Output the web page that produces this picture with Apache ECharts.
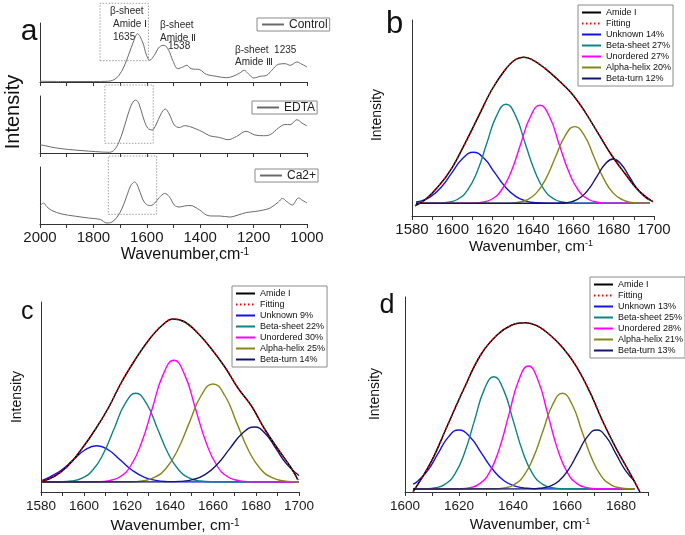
<!DOCTYPE html>
<html><head><meta charset="utf-8">
<script src="https://cdn.jsdelivr.net/npm/echarts@6/dist/echarts.min.js"></script>
<style>html,body{margin:0;padding:0;background:#fff}#c{width:685px;height:535px}</style>
</head><body><div id="c"></div>
<script>
// ---------- DATA ----------
// Panel a: FTIR spectra, [wavenumber, relative height]
const aControl = [[2000,0.7],[1900,0.5],[1800,0.5],[1748,0.7],[1723,2.3],[1704,6.7],[1686,15],[1667,28],[1648,41.7],[1635,48.3],[1616,40],[1601,26.7],[1589,21.7],[1572,26.7],[1553,35],[1535,36.7],[1518,31.7],[1503,21.7],[1484,13.3],[1465,15],[1450,16.7],[1434,13.3],[1402,12.3],[1377,7.7],[1340,5.7],[1302,4.3],[1277,5.7],[1252,9],[1235,11.7],[1220,8.3],[1199,4],[1176,5.7],[1151,6.7],[1132,11.7],[1107,17.7],[1082,18.3],[1063,16.7],[1038,20],[1019,17.7],[1000,15]];
const aEDTA = [[2000,8.3],[1981,7.3],[1943,5.2],[1893,3.5],[1843,2.4],[1792,1.4],[1740,0.7],[1722,3],[1705,10.5],[1688,23],[1670,39],[1654,50],[1641,53],[1629,49],[1614,36],[1597,25],[1580,23],[1566,28],[1547,39],[1531,44],[1516,39],[1497,28],[1478,25.5],[1459,27.3],[1440,26.5],[1415,24],[1390,21],[1365,17.3],[1327,15.5],[1296,13.3],[1264,16.5],[1228,21.7],[1195,18],[1163,17.3],[1138,18.3],[1107,25],[1082,28.5],[1063,28.3],[1038,33.3],[1019,30],[1000,27]];
const aCa = [[2000,18],[1987,21],[1975,17.5],[1956,13.5],[1918,10],[1868,7.8],[1818,6],[1774,4.5],[1750,1],[1730,2],[1711,7],[1692,16],[1675,28],[1660,38.5],[1646,42],[1633,37.5],[1616,25],[1601,19.5],[1585,18.5],[1570,21],[1553,26.5],[1533,30.5],[1516,27.5],[1497,19],[1478,17],[1459,18],[1438,18.5],[1402,14],[1377,9],[1352,8],[1327,8],[1289,7],[1258,9],[1226,11.5],[1195,12.5],[1163,14],[1138,16],[1107,22],[1092,25.5],[1076,22.5],[1055,19],[1032,26],[1016,23.5],[1000,21]];
// dotted boxes around the amide I band in panel a
const aBoxControl = [[1775,21.3],[1594,21.3],[1594,78.7],[1775,78.7],[1775,21.3]];
const aBoxEDTA = [[1757,9.7],[1576,9.7],[1576,68],[1757,68],[1757,9.7]];
const aBoxCa = [[1744,9.7],[1563,9.7],[1563,68],[1744,68],[1744,9.7]];
const aTickLabels = [2000,1800,1600,1400,1200,1000];

// Panel b
const bAmide = [[1581.5,-2.5],[1586.4,3.3],[1593,16.7],[1599.7,35],[1606.3,60],[1612.9,86.7],[1619.5,113.3],[1626.1,133.3],[1631,143.3],[1635.2,146],[1639.3,144],[1645.9,135],[1652.5,123.3],[1659.1,110],[1665.7,91.7],[1672.3,70],[1678.9,48.3],[1685.5,30],[1692.1,13.3],[1699.5,1.5]];
const bUnknown = [[1582,1.3],[1584.2,2.2],[1589.4,6.9],[1594.7,16.6],[1599.9,30.9],[1605.2,45],[1610.4,51],[1615.7,45],[1620.9,30.9],[1626.2,16.6],[1631.4,6.9],[1636.7,2.2],[1641.9,0.6],[1647.2,0.1],[1698,0]];
const bSheet = [[1582,0],[1593.4,0.2],[1598.1,1.1],[1602.9,4.3],[1607.6,13.4],[1612.4,32.1],[1617.1,60],[1621.9,87.4],[1626.6,99],[1631.4,87.4],[1636.1,60],[1640.9,32.1],[1645.6,13.4],[1650.4,4.3],[1655.1,1.1],[1659.9,0.2],[1698,0]];
const bUnordered = [[1582,0],[1610.2,0.2],[1614.9,1.1],[1619.7,4.3],[1624.4,13.3],[1629.2,31.8],[1633.9,59.4],[1638.7,86.5],[1643.4,98],[1648.2,86.5],[1652.9,59.4],[1657.7,31.8],[1662.4,13.3],[1667.2,4.3],[1671.9,1.1],[1676.7,0.2],[1698,0]];
const bHelix = [[1582,0],[1627.5,0.2],[1632.2,0.9],[1637,3.4],[1641.7,10.4],[1646.5,24.9],[1651.2,46.5],[1656,67.7],[1660.7,76.7],[1665.5,67.7],[1670.2,46.5],[1675,24.9],[1679.7,10.4],[1684.5,3.4],[1689.2,0.9],[1694,0.2],[1698,0]];
const bTurn = [[1582,0],[1651.7,0.1],[1655.7,0.5],[1659.7,1.9],[1663.7,6],[1667.7,14.4],[1671.7,26.9],[1675.7,39.1],[1679.7,44.3],[1683.7,39.1],[1687.7,26.9],[1691.7,14.4],[1695.7,6],[1698,3.2]];
const bNames = ['Amide I','Fitting','Unknown 14%','Beta-sheet 27%','Unordered 27%','Alpha-helix 20%','Beta-turn 12%'];
const bTickLabels = [1580,1600,1620,1640,1660,1680,1700];

// Panel c
const cAmide = [[1580.3,0.5],[1586.5,6],[1592.7,16.5],[1598.9,33],[1605.1,52],[1611.3,74],[1617.5,100],[1623.7,122],[1629.8,141],[1636,156],[1641.5,163],[1646.9,160],[1653.1,148.5],[1659.3,133],[1665.5,115],[1671.6,94],[1677.9,76],[1684,53],[1690.2,33],[1696.4,14],[1699.5,2]];
const cUnknown = [[1580.5,1.5],[1584,4.9],[1589.4,11.8],[1594.9,22],[1600.4,32],[1605.9,36.3],[1611.4,32],[1616.9,22],[1622.4,11.8],[1627.9,4.9],[1633.4,1.6],[1638.9,0.4],[1644.4,0.1],[1700,0]];
const cSheet = [[1580.5,0],[1589.1,0.2],[1594.1,1],[1599.1,3.9],[1604.1,12],[1609.1,28.8],[1614.1,53.8],[1619.1,78.3],[1624.1,88.7],[1629.1,78.3],[1634.1,53.8],[1639.1,28.8],[1644.1,12],[1649.1,3.9],[1654.1,1],[1659.1,0.2],[1700,0]];
const cUnordered = [[1580.5,0],[1606.8,0.3],[1611.8,1.4],[1616.8,5.3],[1621.8,16.5],[1626.8,39.5],[1631.8,73.8],[1636.8,107.4],[1641.8,121.7],[1646.8,107.4],[1651.8,73.8],[1656.8,39.5],[1661.8,16.5],[1666.8,5.3],[1671.8,1.4],[1676.8,0.3],[1700,0]];
const cHelix = [[1580.5,0],[1621.5,0.2],[1627,1.1],[1632.5,4.3],[1638,13.3],[1643.5,31.8],[1649,59.4],[1654.5,86.5],[1660,98],[1665.5,86.5],[1671,59.4],[1676.5,31.8],[1682,13.3],[1687.5,4.3],[1693,1.1],[1698.5,0.2],[1700,0.1]];
const cTurn = [[1580.5,0],[1639.1,0.1],[1644.8,0.6],[1650.6,2.4],[1656.3,7.4],[1662.1,17.9],[1667.8,33.4],[1673.6,48.5],[1679.3,55],[1684.3,48.5],[1689.3,33.4],[1694.3,17.9],[1700,6.5]];
const cNames = ['Amide I','Fitting','Unknown 9%','Beta-sheet 22%','Unordered 30%','Alpha-helix 25%','Beta-turn 14%'];
const cTickLabels = [1580,1600,1620,1640,1660,1680,1700];

// Panel d
const dAmide = [[1603,-2.7],[1609.7,27.3],[1615.8,64],[1621.9,100.7],[1628,134],[1634.1,154],[1639.6,164],[1644.5,166.3],[1648.8,163.3],[1653.7,154],[1658.6,140.7],[1663.5,122.3],[1668.4,97.3],[1673.3,67.3],[1678.2,40.7],[1683,17.3],[1687,-3]];
const dUnknown = [[1603,4.8],[1604.8,8],[1608.6,19.2],[1612.3,35.8],[1616.1,52.1],[1619.8,59],[1624.1,52.1],[1628.3,35.8],[1632.6,19.2],[1636.8,8],[1641.1,2.6],[1645.3,0.7],[1649.6,0.1],[1685,0]];
const dSheet = [[1603,0],[1607.7,0.2],[1611.3,1.2],[1614.9,4.9],[1618.5,15.2],[1622.1,36.5],[1625.7,68.1],[1629.3,99.1],[1632.9,112.3],[1636.5,99.1],[1640.1,68.1],[1643.7,36.5],[1647.3,15.2],[1650.9,4.9],[1654.5,1.2],[1658.1,0.2],[1685,0]];
const dUnordered = [[1603,0],[1620.5,0.3],[1624.1,1.4],[1627.7,5.4],[1631.3,16.6],[1634.9,39.9],[1638.5,74.6],[1642.1,108.5],[1645.7,123],[1649.3,108.5],[1652.9,74.6],[1656.5,39.9],[1660.1,16.6],[1663.7,5.4],[1667.3,1.4],[1670.9,0.3],[1685,0]];
const dHelix = [[1603,0],[1633.1,0.2],[1636.7,1.1],[1640.3,4.2],[1643.9,12.9],[1647.5,31.1],[1651.1,58],[1654.7,84.5],[1658.3,95.7],[1661.9,84.5],[1665.5,58],[1669.1,31.1],[1672.7,12.9],[1676.3,4.2],[1679.9,1.1],[1683.5,0.2],[1685,0.1]];
const dTurn = [[1603,0],[1646.5,0.1],[1650,0.7],[1653.5,2.6],[1657,8],[1660.5,19.2],[1664,35.8],[1667.5,52.1],[1671,59],[1674.5,52.1],[1678,35.8],[1681.5,19.2],[1685,8]];
const dNames = ['Amide I','Fitting','Unknown 13%','Beta-sheet 25%','Unordered 28%','Alpha-helix 21%','Beta-turn 13%'];
const dTickLabels = [1600,1620,1640,1660,1680];

// ---------- STYLE ----------
const FF = "'Liberation Sans', Arial, Helvetica, sans-serif";
const COLORS = ['#000000','#ff0000','#1414e6','#0e8383','#ff00ff','#86861a','#14146e'];
const AX = '#333';

function xAx(gi, min, max, interval, labels, fs, margin, extra) {
  return Object.assign({
    type:'value', gridIndex:gi, min, max, interval,
    axisLine:{show:true, onZero:false, lineStyle:{color:AX, width:1}},
    axisTick:{show:true, inside:false, length:4, lineStyle:{color:AX, width:1}},
    splitLine:{show:false},
    axisLabel:{show: !!labels, fontSize:fs, color:'#1a1a1a', margin, fontFamily:FF,
      formatter: v => (labels && labels.indexOf(v) >= 0) ? String(v) : ''}
  }, extra || {});
}
function yAx(gi, min, max) {
  return {type:'value', gridIndex:gi, min, max,
    axisLine:{show:true, onZero:false, lineStyle:{color:AX, width:1}},
    axisTick:{show:false}, axisLabel:{show:false}, splitLine:{show:false}};
}
function line(name, data, idx, color, opts) {
  return Object.assign({type:'line', name, data, xAxisIndex:idx, yAxisIndex:idx, symbol:'none',
    smooth:0.5, silent:true, lineStyle:{color, width:1.4}, itemStyle:{color}}, opts || {});
}
function fitPanel(idx, names, comps, amide) {
  const s = [];
  comps.forEach((d, i) => s.push(line(names[i+2], d, idx, COLORS[i+2])));
  s.push(line(names[0], amide, idx, COLORS[0], {smooth:0.4, lineStyle:{color:COLORS[0], width:1.5}}));
  s.push(line(names[1], amide, idx, COLORS[1], {smooth:0.4, lineStyle:{color:COLORS[1], width:1.5, type:[1.5,2.5]}}));
  return s;
}
function legendFit(left, top, names) {
  return {show:true, orient:'vertical', left, top, data:names, selectedMode:false,
    itemWidth:19, itemHeight:11, itemGap:0, padding:[2,2,2,3],
    borderColor:'#8a8a8a', borderWidth:1, borderRadius:0, backgroundColor:'#fff',
    textStyle:{fontSize:9, color:'#111', fontFamily:FF, lineHeight:11}, itemStyle:{opacity:0}};
}
function legendA(left, top, name) {
  return {show:true, orient:'horizontal', left, top, data:[name], selectedMode:false,
    itemWidth:22, itemHeight:13, itemGap:0, padding:[0,2,0,4],
    borderColor:'#8a8a8a', borderWidth:1, borderRadius:0, backgroundColor:'#fff',
    textStyle:{fontSize:12, color:'#222', fontFamily:FF, lineHeight:13}, itemStyle:{opacity:0}};
}
function txt(x, y, text, fs, opts) {
  return Object.assign({type:'text', x, y, silent:true,
    style:{text, fontSize:fs, fontFamily:FF, fill:'#111', align:'center', verticalAlign:'middle',
      textAlign:'center', textVerticalAlign:'middle'}}, opts || {});
}
function title(x, y, main, fs) {
  return {type:'text', x, y, silent:true, style:{
    text:'{m|' + main + '}{s|-1}', fontFamily:FF, fontSize:fs, fill:'#111',
    align:'center', verticalAlign:'middle', textAlign:'center', textVerticalAlign:'middle',
    rich:{m:{fontSize:fs, fontFamily:FF, fill:'#111', color:'#111', verticalAlign:'bottom'},
          s:{fontSize:Math.round(fs*0.62), fontFamily:FF, fill:'#111', color:'#111', verticalAlign:'top'}}}};
}
function annot(x, y, text) {
  return {type:'text', x, y, silent:true, style:{text, fontSize:10, fontFamily:FF, fill:'#2a2a2a',
    align:'left', verticalAlign:'middle', textAlign:'left', textVerticalAlign:'middle'}};
}

const boxStyle = {color:'#a0a0a0', width:1, type:[1.5,1.5]};
const spec = (name, data, idx) => line(name, data, idx, '#6a6a6a', {smooth:0.35, lineStyle:{color:'#6a6a6a', width:1}});
const box = (name, data, idx) => line(name, data, idx, '#a0a0a0', {smooth:false, clip:false, lineStyle:boxStyle, z:1});

const option = {
  animation:false,
  backgroundColor:'#ffffff',
  grid:[
    {left:40, top:23, width:267, height:59, outerBoundsMode:'none', containLabel:false},
    {left:40, top:96, width:267, height:57, outerBoundsMode:'none', containLabel:false},
    {left:40, top:167, width:267, height:57, outerBoundsMode:'none', containLabel:false},
    {left:412, top:20, width:242, height:196, outerBoundsMode:'none', containLabel:false},
    {left:41, top:302, width:258, height:190, outerBoundsMode:'none', containLabel:false},
    {left:405, top:297, width:243, height:195, outerBoundsMode:'none', containLabel:false}
  ],
  xAxis:[
    xAx(0, 1000, 2000, 100, null, 15, 6, {inverse:true}),
    xAx(1, 1000, 2000, 100, null, 15, 6, {inverse:true}),
    xAx(2, 1000, 2000, 100, aTickLabels, 15, 6, {inverse:true}),
    xAx(3, 1580, 1700, 10, bTickLabels, 15, 6),
    xAx(4, 1580, 1700, 10, cTickLabels, 13.5, 7),
    xAx(5, 1600, 1690, 10, dTickLabels, 13.5, 7)
  ],
  yAxis:[
    yAx(0, 0, 59), yAx(1, 0, 57), yAx(2, 0, 57),
    yAx(3, -12.7, 183.3), yAx(4, -10, 180), yAx(5, -3, 192)
  ],
  legend:[
    legendA(257, 18, 'Control'),
    legendA(252, 101, 'EDTA'),
    legendA(255, 169, 'Ca2+'),
    legendFit(578, 5, bNames),
    legendFit(232, 286, cNames),
    legendFit(590, 277, dNames)
  ],
  series:[
    box('boxControl', aBoxControl, 0), box('boxEDTA', aBoxEDTA, 1), box('boxCa', aBoxCa, 2),
    spec('Control', aControl, 0), spec('EDTA', aEDTA, 1), spec('Ca2+', aCa, 2),
    ...fitPanel(3, bNames, [bUnknown, bSheet, bUnordered, bHelix, bTurn], bAmide),
    ...fitPanel(4, cNames, [cUnknown, cSheet, cUnordered, cHelix, cTurn], cAmide),
    ...fitPanel(5, dNames, [dUnknown, dSheet, dUnordered, dHelix, dTurn], dAmide)
  ],
  graphic:[
    txt(29, 31.5, 'a', 30),
    txt(394.5, 24, 'b', 31),
    txt(27.3, 312, 'c', 25),
    txt(387, 305.5, 'd', 27),
    txt(13, 112, 'Intensity', 20, {rotation:Math.PI/2}),
    txt(377, 115, 'Intensity', 14, {rotation:Math.PI/2}),
    txt(17, 397, 'Intensity', 14, {rotation:Math.PI/2}),
    txt(375, 394, 'Intensity', 14, {rotation:Math.PI/2}),
    title(185, 255, 'Wavenumber,cm', 16),
    title(531, 247, 'Wavenumber, cm', 15),
    title(175, 526, 'Wavenumber, cm', 15.5),
    title(530, 525, 'Wavenumber, cm', 14.5),
    annot(110, 11.7, 'β-sheet'),
    annot(113, 24, 'Amide Ⅰ'),
    annot(113, 37.3, '1635'),
    annot(160, 25.7, 'β-sheet'),
    annot(160, 38.3, 'Amide Ⅱ'),
    annot(168, 46.7, '1538'),
    annot(235, 50, 'β-sheet  1235'),
    annot(235, 62, 'Amide Ⅲ')
  ]
};
const chart = echarts.init(document.getElementById('c'), null, {renderer:'canvas'});
chart.setOption(option);
</script></body></html>
